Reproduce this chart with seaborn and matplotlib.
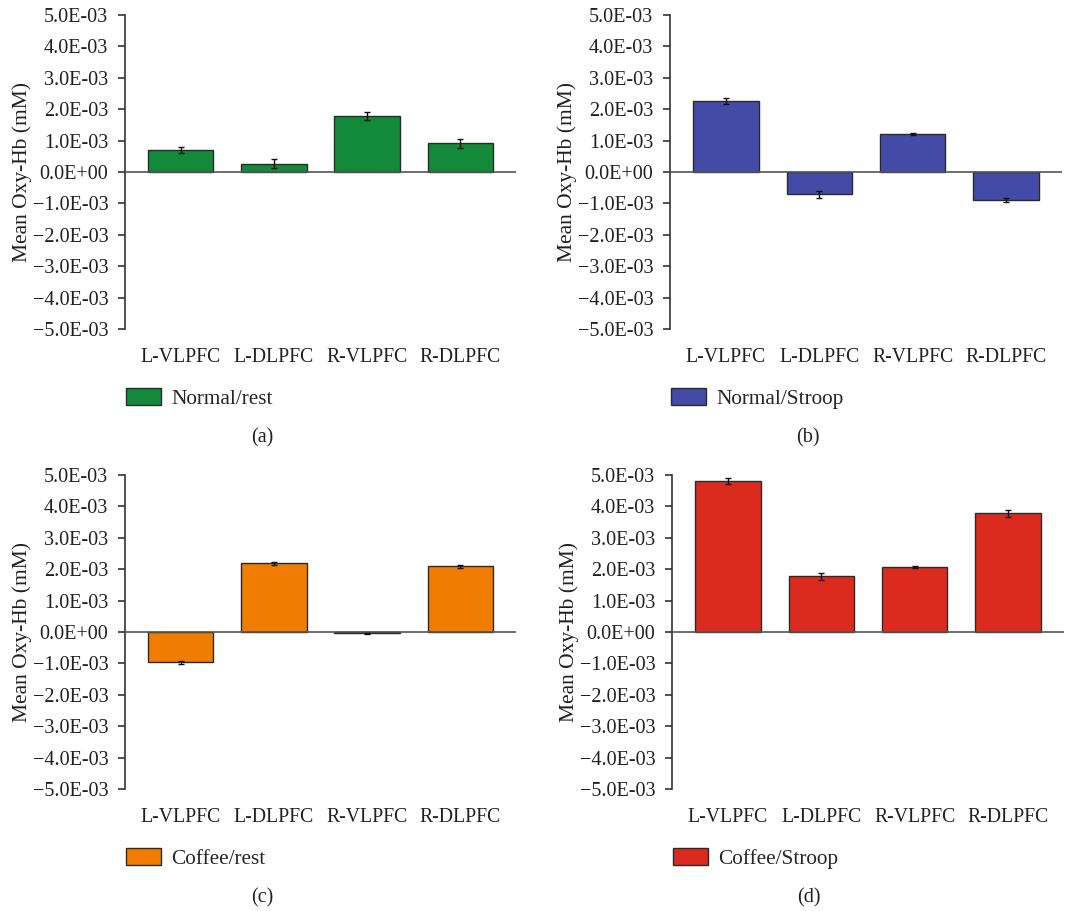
import matplotlib
matplotlib.use("Agg")
import matplotlib.pyplot as plt
import seaborn as sns
from matplotlib.patches import Patch

categories = ["L-VLPFC", "L-DLPFC", "R-VLPFC", "R-DLPFC"]

normal_rest = [0.70e-3, 0.27e-3, 1.78e-3, 0.91e-3]
normal_rest_err = [0.11e-3, 0.14e-3, 0.13e-3, 0.13e-3]
normal_stroop = [2.27e-3, -0.71e-3, 1.21e-3, -0.89e-3]
normal_stroop_err = [0.10e-3, 0.12e-3, 0.04e-3, 0.06e-3]
coffee_rest = [-0.97e-3, 2.19e-3, -0.04e-3, 2.09e-3]
coffee_rest_err = [0.05e-3, 0.05e-3, 0.01e-3, 0.05e-3]
coffee_stroop = [4.80e-3, 1.78e-3, 2.08e-3, 3.78e-3]
coffee_stroop_err = [0.10e-3, 0.11e-3, 0.03e-3, 0.11e-3]

series_names = ["Normal/rest", "Normal/Stroop", "Coffee/rest", "Coffee/Stroop"]
panel_labels = ["(a)", "(b)", "(c)", "(d)"]
colors = ["#138a3a", "#434ba6", "#f07c00", "#dc2b1e"]
yticks = [5e-3, 4e-3, 3e-3, 2e-3, 1e-3, 0.0, -1e-3, -2e-3, -3e-3, -4e-3, -5e-3]

sns.set_style("white")
plt.rcParams["font.family"] = ["Liberation Serif", "DejaVu Serif"]

W, H = 1070, 911
fig = plt.figure(figsize=(W / 100, H / 100), dpi=100)

# axes pixel boxes: left, top, right, bottom
boxes = [(125, 15, 516, 329), (670, 15, 1062, 329),
         (125, 475, 516, 789), (672, 475, 1064, 789)]
label_pos = [(262, 438), (808, 438), (262, 898), (809, 898)]

data = [(normal_rest, normal_rest_err), (normal_stroop, normal_stroop_err),
        (coffee_rest, coffee_rest_err), (coffee_stroop, coffee_stroop_err)]


def fmt(v):
    s = f"{v:.1E}"
    if s.startswith("-"):
        s = "\u2212" + s[1:]
    return s


for i, ((vals, errs), box) in enumerate(zip(data, boxes)):
    l, t, r, b = box
    ax = fig.add_axes([l / W, 1 - b / H, (r - l) / W, (b - t) / H])
    sns.barplot(x=categories, y=vals, color=colors[i], saturation=1,
                edgecolor="#2a2a2a", linewidth=1.0, width=0.7, ax=ax)
    ax.errorbar(range(len(categories)), vals, yerr=errs, fmt="none",
                ecolor="#111111", elinewidth=1.0, capsize=2.5, capthick=1.0, zorder=5)
    ax.axhline(0, color="#555555", lw=1.2, zorder=4)
    ax.set_xlim(-0.6, 3.6)
    ax.set_ylim(-5e-3, 5e-3)
    ax.set_yticks(yticks)
    ax.set_yticklabels([fmt(v) for v in yticks], fontsize=14.5, color="#231f20")
    ax.tick_params(axis="y", which="major", left=True, length=5, width=1.2,
                   color="#333333", pad=7)
    ax.tick_params(axis="x", bottom=False, labelsize=14.2, pad=10, labelcolor="#231f20")
    for s in ["top", "right", "bottom"]:
        ax.spines[s].set_visible(False)
    ax.spines["left"].set_color("#333333")
    ax.spines["left"].set_linewidth(1.2)
    ax.set_ylabel("Mean Oxy-Hb (mM)", fontsize=15.5, color="#231f20", labelpad=0.5)
    ax.set_xlabel("")
    handle = Patch(facecolor=colors[i], edgecolor="#2a2a2a", linewidth=1.0)
    ax.legend(handles=[handle], labels=[series_names[i]], loc="center left",
              bbox_to_anchor=(-0.02, -0.221), frameon=False, fontsize=15.3,
              handlelength=1.65, handleheight=0.85, handletextpad=0.5,
              borderaxespad=0)
    lx, ly = label_pos[i]
    fig.text(lx / W, 1 - ly / H, panel_labels[i], ha="center", va="center",
             fontsize=14.5, color="#231f20")

fig.savefig("out.png", dpi=100)
